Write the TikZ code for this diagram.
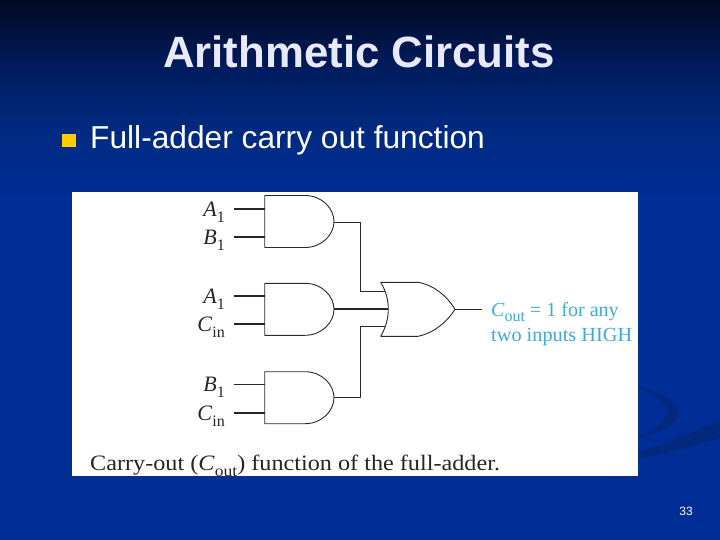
\documentclass[tikz,border=0pt]{standalone}
\usepackage{fontspec}
\setmainfont{Liberation Serif}
\newfontfamily\arialfont{Liberation Sans}
\definecolor{bgA}{HTML}{000A22}
\definecolor{bgB}{HTML}{001B5C}
\definecolor{bgC}{HTML}{002A80}
\definecolor{bgD}{HTML}{002D96}
\definecolor{swoosh}{HTML}{05287F}
\definecolor{titlecol}{HTML}{E9E9FB}
\definecolor{bulletcol}{HTML}{FFCC00}
\definecolor{labelcol}{HTML}{3FA9DC}
\definecolor{inkcol}{HTML}{2A2A2A}
\tikzset{
  gate/.style={draw=inkcol,line width=0.9pt,fill=white,line join=round},
  wirethin/.style={draw=inkcol,line width=0.9pt},
  wirethick/.style={draw=black!85,line width=1.7pt},
  inlabel/.style={inner sep=0pt,anchor=base east,font=\fontsize{22}{22}\selectfont,text=black!85},
  titlelabel/.style={inner sep=0pt,anchor=base,font=\arialfont\bfseries\fontsize{43.8}{43.8}\selectfont,text=titlecol},
  bodylabel/.style={inner sep=0pt,anchor=base west,font=\arialfont\fontsize{31.7}{31.7}\selectfont,text=white},
  outlabel/.style={inner sep=0pt,anchor=base west,font=\fontsize{20}{20}\selectfont,text=labelcol},
}
\newcommand{\andgate}[1]{% top y given
  \draw[gate] (264.7,#1) -- (305,#1) .. controls (322,#1) and (334,#1+13) .. (334,#1+26)
    .. controls (334,#1+39) and (322,#1+52) .. (305,#1+52) -- (264.7,#1+52) -- cycle;
}
\newcommand{\bigsub}[1]{\raisebox{-0.28em}{\fontsize{16}{16}\selectfont #1}}
\begin{document}
\begin{tikzpicture}[x=1pt,y=-1pt]
\useasboundingbox (0,0) rectangle (720,540);
% background
\fill[top color=bgA,bottom color=bgB] (0,0) rectangle (720,64);
\fill[top color=bgB,bottom color=bgC] (0,63.5) rectangle (720,130);
\fill[top color=bgC,bottom color=bgD] (0,129.5) rectangle (720,195);
\fill[bgD] (0,194.5) rectangle (720,540);
\fill[swoosh] (630,384) .. controls (660,392) and (678,402) .. (678,412)
  .. controls (678,424) and (660,434) .. (630,440)
  .. controls (652,432) and (668,422) .. (668,412)
  .. controls (668,402) and (652,392) .. (630,384) -- cycle;
\fill[swoosh] (630,455) .. controls (660,446) and (695,432) .. (720,420) -- (720,438)
  .. controls (695,446) and (660,455) .. (630,460) -- cycle;
% title and text
\node[titlelabel] (title) at (359,67.2) {Arithmetic Circuits};
\fill[bulletcol] (62,134) rectangle (76,147);
\node[bodylabel] (body) at (90,149) {Full-adder carry out function};
\fill[white] (72,192) rectangle (638,476);
\node[inner sep=0pt,anchor=base,font=\arialfont\fontsize{12}{12}\selectfont,text=white] (page) at (686,515) {33};
% gates
\andgate{195.5}
\andgate{283.3}
\andgate{371.7}
\draw[gate] (380.7,282.3) -- (418,282.3) .. controls (434,285) and (447,296) .. (455,309.3)
  .. controls (447,322) and (434,333) .. (418,336.3) -- (380.7,336.3)
  .. controls (386,327) and (388.3,318) .. (388.3,309.3)
  .. controls (388.3,300) and (386,291) .. (380.7,282.3) -- cycle;
% ports
\coordinate (a1) at (264.7,208.7); \coordinate (a1s) at (233.7,208.7);
\coordinate (b1) at (264.7,236.7); \coordinate (b1s) at (233.7,236.7);
\coordinate (a2) at (264.7,296);   \coordinate (a2s) at (233.7,296);
\coordinate (c2) at (264.7,324.3); \coordinate (c2s) at (233.7,324.3);
\coordinate (b3) at (264.7,384);   \coordinate (b3s) at (233.7,384);
\coordinate (c3) at (264.7,412.7); \coordinate (c3s) at (233.7,412.7);
\coordinate (g1o) at (334,222);
\coordinate (g2o) at (334,309);
\coordinate (g3o) at (334,397.3);
\coordinate (ort) at (385,291.7);
\coordinate (orm) at (388.3,309);
\coordinate (orb) at (385,326);
\coordinate (oro) at (455,309.3);
\coordinate (out) at (482.3,309.3);
\draw[wirethick] (a1s) -- (a1);
\draw[wirethick] (b1s) -- (b1);
\draw[wirethick] (a2s) -- (a2);
\draw[wirethick] (c2s) -- (c2);
\draw[wirethin] (b3s) -- (b3);
\draw[wirethick] (c3s) -- (c3);
\draw[wirethin] (g1o) -| (360.3,291.7) -- (ort);
\draw[wirethick] (g2o) -- (orm);
\draw[wirethin] (g3o) -| (360.3,326) -- (orb);
\draw[wirethin] (oro) -- (out);
% input labels
\node[inlabel] (la1) at (225,216) {\textit{A}\bigsub{1}};
\node[inlabel] (lb1) at (225,244) {\textit{B}\bigsub{1}};
\node[inlabel] (la2) at (225,303) {\textit{A}\bigsub{1}};
\node[inlabel] (lc2) at (225,331) {\textit{C}\bigsub{in}};
\node[inlabel] (lb3) at (225,391) {\textit{B}\bigsub{1}};
\node[inlabel] (lc3) at (225,420) {\textit{C}\bigsub{in}};
\node[outlabel] (lo1) at (491,316) {\textit{C}\bigsub{out} = 1 for any};
\node[outlabel,transform shape,xscale=1.015] (lo2) at (491,341) {two inputs HIGH};
\node[inner sep=0pt,anchor=base west,font=\fontsize{22}{22}\selectfont,text=black!85,transform shape,xscale=1.1] (cap) at (90,470) {Carry-out (\textit{C}\bigsub{out}) function of the full-adder.};
\end{tikzpicture}
\end{document}
